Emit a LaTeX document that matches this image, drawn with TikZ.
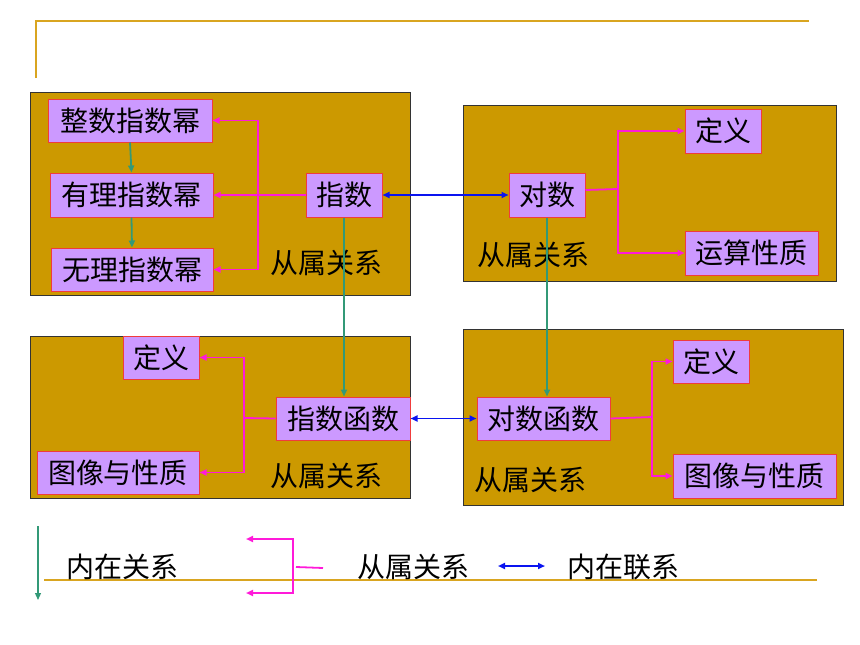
\documentclass[tikz,border=0pt]{standalone}
\usepackage{fontspec}
\newfontfamily\cjk{Noto Sans CJK SC}
\usetikzlibrary{arrows.meta}
\definecolor{boxfill}{HTML}{CC9900}
\definecolor{nodefill}{HTML}{CC99FF}
\definecolor{noderim}{HTML}{F03C3C}
\definecolor{pinkc}{HTML}{FF1AD9}
\definecolor{greenc}{HTML}{339977}
\definecolor{bluec}{HTML}{0A14F0}
\definecolor{goldc}{HTML}{D9A520}
\tikzset{
  panel/.style={draw=black!80, line width=0.8pt, fill=boxfill},
  item/.style={draw=noderim, line width=1pt, fill=nodefill, inner sep=0pt, font=\cjk\fontsize{28}{28}\selectfont},
  tag/.style={inner sep=0pt, font=\cjk\fontsize{28}{28}\selectfont},
  pinkline/.style={draw=pinkc, line width=1.8pt},
  pinkarrow/.style={pinkline, -{Triangle[length=7pt,width=6pt]}},
  greenarrow/.style={draw=greenc, line width=1.8pt, -{Triangle[length=7pt,width=6pt]}},
  bluearrow/.style={draw=bluec, line width=1.8pt, {Triangle[length=7pt,width=6pt]}-{Triangle[length=7pt,width=6pt]}},
  goldline/.style={draw=goldc, line width=2pt},
}
\begin{document}
\begin{tikzpicture}[x=1pt,y=-1pt]
\useasboundingbox (0,0) rectangle (860,645);
% decorations
\draw[goldline] (36,78) -- (36,21) -- (809,21);
\draw[goldline] (44,580) -- (817,580);
% panels
\draw[panel] (30,92) rectangle (410,295);
\draw[panel] (463,105) rectangle (836,281);
\draw[panel] (30,336) rectangle (410,498);
\draw[panel] (463,329) rectangle (843,505);
% panel 1
\node[item, minimum width=164pt, minimum height=43pt] (zz) at (130,120.5) {整数指数幂};
\node[item, minimum width=163pt, minimum height=44pt] (yl) at (131.5,195) {有理指数幂};
\node[item, minimum width=162pt, minimum height=43pt] (wl) at (132,269.5) {无理指数幂};
\node[item, minimum width=76pt, minimum height=44pt] (zs) at (344,195) {指数};
\node[tag] (t1) at (326,263) {从属关系};
% panel 2
\node[item, minimum width=76pt, minimum height=44pt] (dy1) at (723,131) {定义};
\node[item, minimum width=76pt, minimum height=44pt] (ds) at (547,195) {对数};
\node[item, minimum width=133pt, minimum height=44pt] (ys) at (751.5,253) {运算性质};
\node[tag] (t2) at (533,255) {从属关系};
% panel 3
\node[item, minimum width=76pt, minimum height=43pt] (dy2) at (161,357.5) {定义};
\node[item, minimum width=162pt, minimum height=43pt] (tx1) at (118,472.5) {图像与性质};
\node[item, minimum width=134pt, minimum height=43pt] (zf) at (343,418.5) {指数函数};
\node[tag] (t3) at (326,476) {从属关系};
% panel 4
\node[item, minimum width=76pt, minimum height=43pt] (dy3) at (711,361.5) {定义};
\node[item, minimum width=133pt, minimum height=43pt] (df) at (543.5,418.5) {对数函数};
\node[item, minimum width=163pt, minimum height=44pt] (tx2) at (754.5,476) {图像与性质};
\node[tag] (t4) at (530,480) {从属关系};
% panel 1 connectors
\coordinate (b1) at (258,195);
\draw[pinkarrow] (zs.west) -- (yl.east);
\draw[pinkarrow] (b1) |- (zz.east);
\draw[pinkarrow] (b1) |- (wl.east);
\draw[greenarrow] (zz.south) -- (yl.north);
\draw[greenarrow] (yl.south) -- (wl.north);
% panel 2 connectors
\coordinate (b2) at (618,189);
\draw[pinkline] (ds.east |- 0,190) -- (b2);
\draw[pinkarrow] (b2) |- (dy1.west);
\draw[pinkarrow] (b2) |- (ys.west);
% panel 3 connectors
\coordinate (b3) at (244,418);
\draw[pinkline] (zf.west) -- (b3);
\draw[pinkarrow] (b3) |- (dy2.east);
\draw[pinkarrow] (b3) |- (tx1.east);
% panel 4 connectors
\coordinate (b4) at (652,417);
\draw[pinkline] (df.east) -- (b4);
\draw[pinkarrow] (b4) |- (dy3.west);
\draw[pinkarrow] (b4) |- (tx2.west);
% between panels
\draw[bluearrow] (zs.east) -- (ds.west);
\draw[bluearrow] (zf.east) -- (df.west);
\draw[greenarrow] (zs.south) -- (zf.north -| zs.south);
\draw[greenarrow] (ds.south) -- (ds.south |- df.north);
% legend
\coordinate (g1) at (38,526);
\coordinate (g2) at (38,600);
\draw[greenarrow, line width=1.2pt] (g1) -- (g2);
\node[tag] (l1) at (122,567) {内在关系};
\coordinate (p1) at (246,539);
\coordinate (p2) at (293,539);
\coordinate (p3) at (293,593);
\coordinate (p4) at (246,593);
\draw[pinkline, {Triangle[length=7pt,width=6pt]}-{Triangle[length=7pt,width=6pt]}] (p1) -- (p2) -- (p3) -- (p4);
\coordinate (d1) at (296,567);
\coordinate (d2) at (323,568);
\draw[pinkline] (d1) -- (d2);
\node[tag] (l2) at (413,567) {从属关系};
\coordinate (q1) at (498,566);
\coordinate (q2) at (545,566);
\draw[bluearrow] (q1) -- (q2);
\node[tag] (l3) at (623,567) {内在联系};
\end{tikzpicture}
\end{document}
